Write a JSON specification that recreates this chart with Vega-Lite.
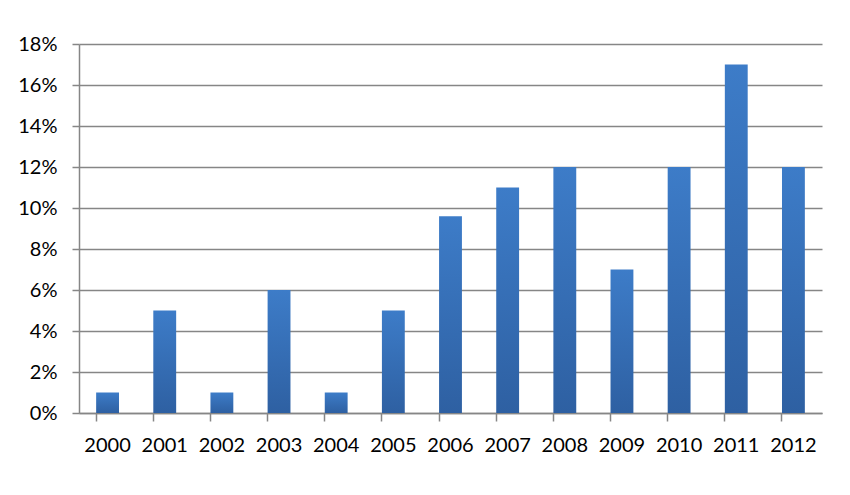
{
  "$schema": "https://vega.github.io/schema/vega-lite/v6.json",
  "width": 743,
  "height": 369,
  "autosize": {"type": "none"},
  "padding": {"left": 79, "top": 44, "right": 28, "bottom": 82},
  "background": "white",
  "data": {"values": [
    {"year": "2000", "share": 0.01},
    {"year": "2001", "share": 0.05},
    {"year": "2002", "share": 0.01},
    {"year": "2003", "share": 0.06},
    {"year": "2004", "share": 0.01},
    {"year": "2005", "share": 0.05},
    {"year": "2006", "share": 0.096},
    {"year": "2007", "share": 0.11},
    {"year": "2008", "share": 0.12},
    {"year": "2009", "share": 0.07},
    {"year": "2010", "share": 0.12},
    {"year": "2011", "share": 0.17},
    {"year": "2012", "share": 0.12}
  ]},
  "mark": {
    "type": "bar",
    "color": {
      "gradient": "linear", "x1": 0, "y1": 0, "x2": 0, "y2": 1,
      "stops": [{"offset": 0, "color": "#3d7cc8"}, {"offset": 1, "color": "#2e60a2"}]
    }
  },
  "encoding": {
    "x": {
      "field": "year", "type": "ordinal", "title": null,
      "scale": {"paddingInner": 0.6, "paddingOuter": 0.3},
      "axis": {"labelAngle": 0, "bandPosition": 0, "tickSize": 8, "labelPadding": 14,
               "domainColor": "#868686", "tickColor": "#868686", "domainWidth": 1.5, "tickWidth": 1.5,
               "labelFont": "Lato", "labelFontSize": 20, "labelColor": "#000000", "grid": false}
    },
    "y": {
      "field": "share", "type": "quantitative", "title": null,
      "scale": {"domain": [0, 0.18], "nice": false},
      "axis": {"values": [0, 0.02, 0.04, 0.06, 0.08, 0.1, 0.12, 0.14, 0.16, 0.18], "format": ".0%",
               "tickSize": 7, "labelPadding": 15, "domainColor": "#868686", "tickColor": "#868686",
               "domainWidth": 1.5, "tickWidth": 1.5, "gridColor": "#868686", "gridWidth": 1.5,
               "labelFont": "Lato", "labelFontSize": 20, "labelColor": "#000000"}
    }
  },
  "config": {"view": {"stroke": null}}
}
